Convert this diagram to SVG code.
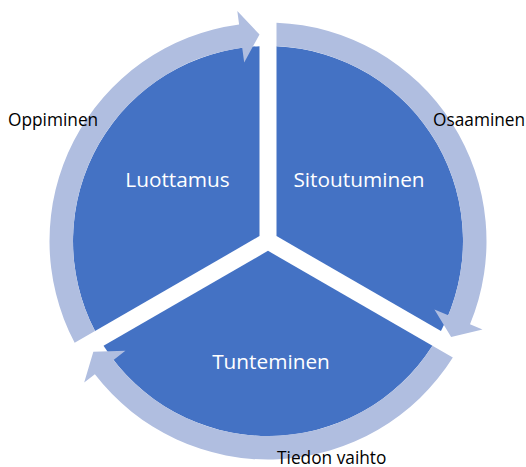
<svg xmlns="http://www.w3.org/2000/svg" width="526" height="467" viewBox="0 0 526 467">
<style>
.seg{fill:#4472C4}
.arr{fill:#B0BEE0}
.in{font-family:"Open Sans","Noto Sans",sans-serif;font-size:20.8px;fill:#FFFFFF;text-anchor:middle}
.out{font-family:"Open Sans","Noto Sans",sans-serif;font-size:17.3px;fill:#000000}
</style>
<rect width="526" height="467" fill="#FFFFFF"/>
<g id="node-sitoutuminen">
<path class="seg" d="M 276.5 236.09 L 276.5 46.185 A 195 195 0 0 1 440.965 331.047 Z"/>
<text class="in" x="359" y="186.5">Sitoutuminen</text>
</g>
<g id="node-tunteminen">
<path class="seg" d="M 268 250.815 L 432.465 345.769 A 195 195 0 0 1 103.535 345.769 Z"/>
<text class="in" x="271" y="368.5">Tunteminen</text>
</g>
<g id="node-luottamus">
<path class="seg" d="M 259.5 236.093 L 95.035 331.047 A 195 195 0 0 1 259.5 46.185 Z"/>
<text class="in" x="177.5" y="186.5">Luottamus</text>
</g>
<g id="connectors">
<g id="arrow-osaaminen">
<path class="arr" d="M 276.5 22.665 A 218.5 218.5 0 0 1 470.014 324.264 L 482.496 329.408 L 451.149 336.928 L 434.419 309.593 L 448.287 315.309 A 195 195 0 0 0 276.5 46.185 Z"/>
<text class="out" x="433" y="125.5">Osaaminen</text>
</g>
<g id="arrow-tiedon-vaihto">
<path class="arr" d="M 452.834 357.529 A 218.5 218.5 0 0 1 94.885 374.318 L 84.189 382.555 L 93.342 351.638 L 125.388 350.827 L 113.503 359.979 A 195 195 0 0 0 432.465 345.769 Z"/>
<text class="out" x="277" y="463.5">Tiedon vaihto</text>
</g>
<g id="arrow-oppiminen">
<path class="arr" d="M 74.666 342.807 A 218.5 218.5 0 0 1 239.101 24.418 L 237.316 11.037 L 259.501 34.426 L 244.193 62.58 L 242.209 47.712 A 195 195 0 0 0 95.035 331.047 Z"/>
<text class="out" x="8" y="125.5">Oppiminen</text>
</g>
</g>
</svg>
